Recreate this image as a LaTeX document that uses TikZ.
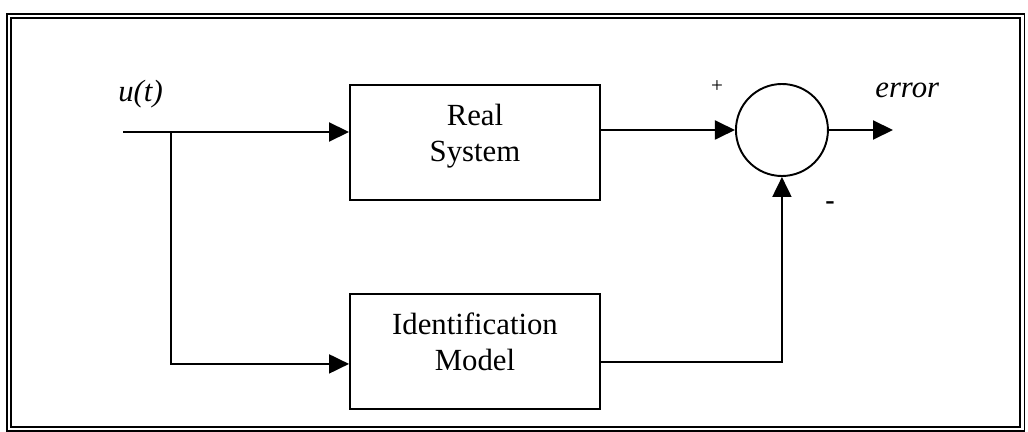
\documentclass[tikz,border=0pt]{standalone}
\usepackage{fontspec}
\setmainfont{Liberation Serif}
\usepackage{xcolor}
\usepackage{tikz}
\usetikzlibrary{positioning,calc,arrows.meta}
\tikzset{%
  blockBox/.style={%
    rectangle,
    draw=black,
    line width=1.1pt,
    minimum width=5cm,
    minimum height=2.3cm,
    inner sep=0pt
  },
  boxText/.style={%
    font=\fontsize{17.5}{20.5}\selectfont,
    align=center,
    inner sep=0pt
  },
  sumCircle/.style={%
    circle,
    draw=black,
    line width=1.1pt,
    minimum size=1.84cm,
    inner sep=0pt
  },
  arrowLine/.style={%
    -{Triangle[length=0.4cm,width=0.38cm]},
    line width=1.1pt
  },
  signalLabel/.style={%
    font=\fontsize{17.5}{20.5}\selectfont\itshape,
    inner sep=0pt
  },
  signText/.style={%
    inner sep=0pt
  }
}

\begin{document}
\begin{tikzpicture}
            \useasboundingbox (0,0) rectangle (20.56,-8.64);

            % Double frame round the diagram
            \draw[double, line width=1.1pt, double distance=1.7pt] (0.18,-0.32) rectangle (20.44,-8.58);

            % Plant and model blocks
            \node[blockBox] (real) at (9.5,-2.85) {};
            \node[blockBox, below=1.84cm of real] (ident) {};
            \node[boxText] (realText) at ([yshift=0.13cm]real.center) {Real\\System};
            \node[boxText] (identText) at ([yshift=0.19cm]ident.center) {Identification\\Model};

            % Summing junction
            \node[sumCircle, right=2.68cm of real, yshift=0.25cm] (sum) {};

            % Signal end points
            \coordinate (uIn) at (2.46,-2.64);
            \coordinate (split) at (3.42,-2.64);
            \coordinate (identIn) at ([yshift=-0.25cm]ident.west);
            \coordinate (identOut) at ([yshift=-0.21cm]ident.east);
            \coordinate (errOut) at (17.86,-2.6);

            \draw[arrowLine] (uIn) -- (uIn -| real.west);
            \draw[arrowLine] (split) |- (identIn);
            \draw[arrowLine] (real.east |- sum.west) -- (sum.west);
            \draw[arrowLine] (identOut) -| (sum.south);
            \draw[arrowLine] (sum.east) -- (errOut);

            % Labels
            \node[signalLabel, anchor=base west] (uLabel) at (2.36,-2.04) {u(t)};
            \node[signalLabel, anchor=base west] (errLabel) at (17.5,-1.96) {error};
            \node[signText, font=\fontsize{12}{14}\selectfont] (plusSign) at (14.34,-1.74) {+};
            \node[signText, font=\fontsize{16}{18}\selectfont\bfseries] (minusSign) at (16.6,-4.12) {-};
        \end{tikzpicture}
\end{document}
